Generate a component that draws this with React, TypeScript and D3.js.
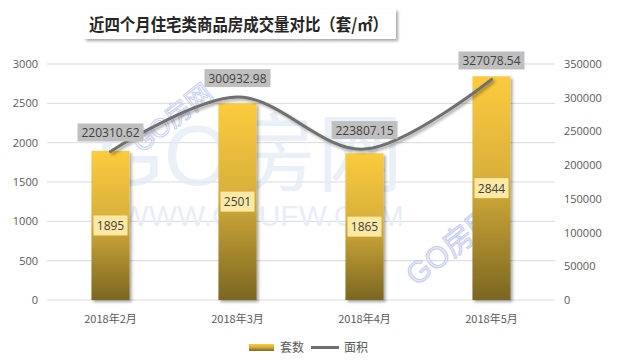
import { useEffect, useRef } from "react";
import * as d3 from "d3";

const months = ["2018年2月", "2018年3月", "2018年4月", "2018年5月"];
const counts = [1895, 2501, 1865, 2844];
const areas = [220310.62, 300932.98, 223807.15, 327078.54];
const leftTicks = [0, 500, 1000, 1500, 2000, 2500, 3000];
const rightTicks = [0, 50000, 100000, 150000, 200000, 250000, 300000, 350000];

const W = 620;
const H = 363;
const numFont = "'Open Sans', 'Noto Sans', sans-serif";
const cjkFont = "'Noto Sans CJK SC', sans-serif";

export default function App() {
  const ref = useRef<SVGSVGElement | null>(null);

  useEffect(() => {
    if (!ref.current) return;
    const svg = d3.select(ref.current);
    svg.selectAll("*").remove();

    const margin = { top: 64, right: 65, bottom: 63, left: 47 };
    const plotW = W - margin.left - margin.right;

    const x = d3
      .scaleBand()
      .domain(months)
      .range([margin.left, margin.left + plotW])
      .paddingInner(0.7)
      .paddingOuter(0.35);

    const yL = d3.scaleLinear().domain([0, 3000]).range([H - margin.bottom, margin.top]);
    const yR = d3.scaleLinear().domain([0, 350000]).range([H - margin.bottom, margin.top]);

    const defs = svg.append("defs");
    const grad = defs
      .append("linearGradient")
      .attr("id", "barGrad")
      .attr("x1", 0)
      .attr("y1", 0)
      .attr("x2", 0)
      .attr("y2", 1);
    grad.append("stop").attr("offset", "0%").attr("stop-color", "#fccb3e");
    grad.append("stop").attr("offset", "45%").attr("stop-color", "#d9b03a");
    grad.append("stop").attr("offset", "100%").attr("stop-color", "#7b6622");

    const shadow = defs.append("filter").attr("id", "shadow").attr("x", "-20%").attr("y", "-20%").attr("width", "150%").attr("height", "150%");
    shadow
      .append("feDropShadow")
      .attr("dx", 2)
      .attr("dy", 2)
      .attr("stdDeviation", 1.5)
      .attr("flood-color", "#000")
      .attr("flood-opacity", 0.35);

    svg.append("rect").attr("width", W).attr("height", H).attr("fill", "#fff");

    // gridlines
    svg
      .append("g")
      .selectAll("line")
      .data(leftTicks)
      .join("line")
      .attr("x1", margin.left)
      .attr("x2", margin.left + plotW)
      .attr("y1", (d) => yL(d))
      .attr("y2", (d) => yL(d))
      .attr("stroke", "#d9d9d9")
      .attr("stroke-width", 1);

    // left axis labels
    svg
      .append("g")
      .selectAll("text")
      .data(leftTicks)
      .join("text")
      .attr("x", 38)
      .attr("y", (d) => yL(d) + 4)
      .attr("text-anchor", "end")
      .attr("font-family", numFont)
      .attr("font-size", 11)
      .attr("fill", "#595959")
      .text((d) => d);

    // right axis labels
    svg
      .append("g")
      .selectAll("text")
      .data(rightTicks)
      .join("text")
      .attr("x", 564)
      .attr("y", (d) => yR(d) + 4)
      .attr("text-anchor", "start")
      .attr("font-family", numFont)
      .attr("font-size", 11)
      .attr("fill", "#595959")
      .text((d) => d);

    // x labels
    svg
      .append("g")
      .selectAll("text")
      .data(months)
      .join("text")
      .attr("x", (d) => x(d)! + x.bandwidth() / 2)
      .attr("y", 323)
      .attr("text-anchor", "middle")
      .attr("font-family", cjkFont)
      .attr("font-size", 11)
      .attr("fill", "#595959")
      .text((d) => d);

    // watermarks
    const wm = svg.append("g").attr("pointer-events", "none");
    wm.append("text")
      .attr("x", 250)
      .attr("y", 185)
      .attr("text-anchor", "middle")
      .attr("font-family", "'Liberation Sans', " + cjkFont)
      .attr("font-size", 86)
      .attr("fill", "#e3ebf5")
      .attr("opacity", 0.75)
      .text("GO房网");
    wm.append("text")
      .attr("x", 262)
      .attr("y", 226)
      .attr("text-anchor", "middle")
      .attr("font-family", "'Liberation Sans', sans-serif")
      .attr("font-size", 30)
      .attr("fill", "#e8eef6")
      .text("WWW.GOUFW.COM");
    wm.append("text")
      .attr("transform", "translate(178,125) rotate(-38)")
      .attr("text-anchor", "middle")
      .attr("font-family", "'Liberation Sans', " + cjkFont)
      .attr("font-size", 26)
      .attr("fill", "none")
      .attr("stroke", "#c9d0f0")
      .attr("stroke-width", 1)
      .text("GO房网");
    wm.append("text")
      .attr("transform", "translate(458,254) rotate(-38)")
      .attr("text-anchor", "middle")
      .attr("font-family", "'Liberation Sans', " + cjkFont)
      .attr("font-size", 30)
      .attr("fill", "#e3e7fa")
      .attr("stroke", "#bfc8f0")
      .attr("stroke-width", 0.8)
      .text("GO房网");

    // bars
    const bars = svg.append("g");
    months.forEach((m, i) => {
      const bx = x(m)!;
      const top = yL(counts[i]);
      bars
        .append("rect")
        .attr("x", bx)
        .attr("y", top)
        .attr("width", x.bandwidth())
        .attr("height", yL(0) - top)
        .attr("fill", "url(#barGrad)")
        .attr("filter", "url(#shadow)");
    });

    // line
    const line = d3
      .line<number>()
      .x((_, i) => x(months[i])! + x.bandwidth() / 2)
      .y((d) => yR(d))
      .curve(d3.curveCardinal.tension(0));

    svg
      .append("path")
      .datum(areas)
      .attr("d", line)
      .attr("fill", "none")
      .attr("stroke", "#6f6f6f")
      .attr("stroke-width", 3)
      .attr("stroke-linecap", "round")
      .attr("filter", "url(#shadow)");

    // bar value labels
    months.forEach((m, i) => {
      const cx = x(m)! + x.bandwidth() / 2;
      const cy = (yL(counts[i]) + yL(0)) / 2;
      svg
        .append("rect")
        .attr("x", cx - 17)
        .attr("y", cy - 10)
        .attr("width", 34)
        .attr("height", 20)
        .attr("fill", "#fde9a4");
      svg
        .append("text")
        .attr("x", cx)
        .attr("y", cy + 4.5)
        .attr("text-anchor", "middle")
        .attr("font-family", numFont)
        .attr("font-size", 12)
        .attr("fill", "#404040")
        .text(counts[i]);
    });

    // area labels
    months.forEach((m, i) => {
      const cx = x(m)! + x.bandwidth() / 2;
      const cy = yR(areas[i]) - 19;
      svg
        .append("rect")
        .attr("x", cx - 33)
        .attr("y", cy - 9)
        .attr("width", 66)
        .attr("height", 18)
        .attr("fill", "#bfbfbf");
      svg
        .append("text")
        .attr("x", cx)
        .attr("y", cy + 4.5)
        .attr("text-anchor", "middle")
        .attr("font-family", numFont)
        .attr("font-size", 12)
        .attr("fill", "#404040")
        .text(areas[i].toFixed(2));
    });

    // title
    svg
      .append("rect")
      .attr("x", 84)
      .attr("y", 9)
      .attr("width", 312)
      .attr("height", 30)
      .attr("fill", "#fff")
      .attr("filter", "url(#shadow)");
    svg
      .append("text")
      .attr("x", 89)
      .attr("y", 31)
      .attr("font-family", cjkFont)
      .attr("font-weight", "bold")
      .attr("font-size", 17)
      .attr("textLength", 299)
      .attr("lengthAdjust", "spacingAndGlyphs")
      .attr("fill", "#262626")
      .text("近四个月住宅类商品房成交量对比（套/㎡）");

    // legend
    const lg = svg.append("g");
    lg.append("rect").attr("x", 249).attr("y", 344).attr("width", 25).attr("height", 7).attr("fill", "url(#barGrad)");
    lg.append("text")
      .attr("x", 280)
      .attr("y", 352)
      .attr("font-family", cjkFont)
      .attr("font-size", 12)
      .attr("fill", "#595959")
      .text("套数");
    lg.append("line")
      .attr("x1", 311)
      .attr("x2", 339)
      .attr("y1", 347.5)
      .attr("y2", 347.5)
      .attr("stroke", "#6f6f6f")
      .attr("stroke-width", 3);
    lg.append("text")
      .attr("x", 344)
      .attr("y", 352)
      .attr("font-family", cjkFont)
      .attr("font-size", 12)
      .attr("fill", "#595959")
      .text("面积");
  }, []);

  return (
    <svg
      ref={ref}
      width={W}
      height={H}
      style={{ position: "absolute", left: 0, top: 0 }}
    />
  );
}
